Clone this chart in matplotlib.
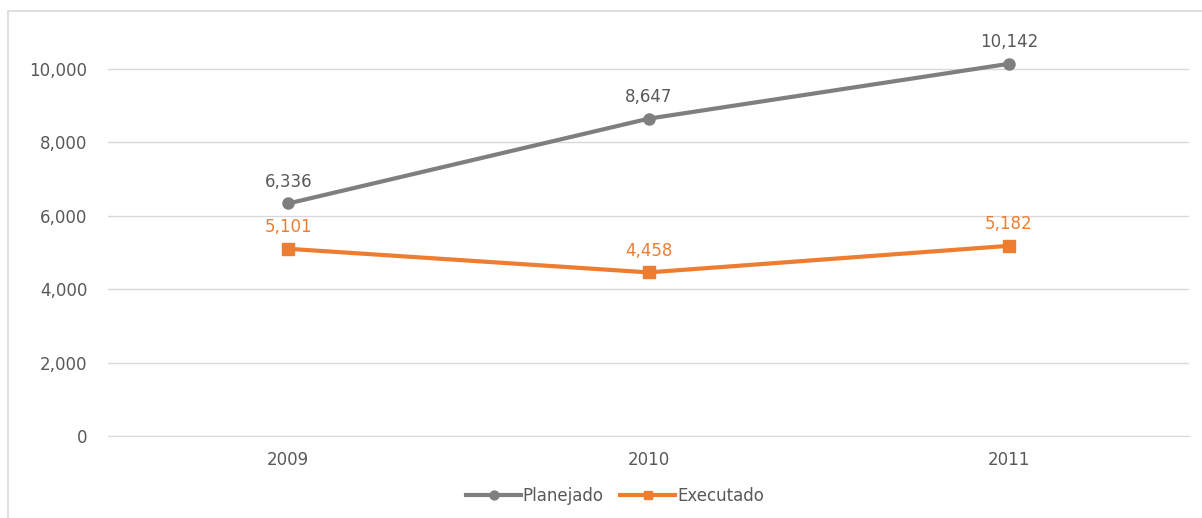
import matplotlib
matplotlib.use("Agg")
import matplotlib.pyplot as plt
from matplotlib.patches import Rectangle
from matplotlib.ticker import FuncFormatter

plt.rcParams["font.family"] = ["DejaVu Sans"]

years = ["2009", "2010", "2011"]
planejado = [6336, 8647, 10142]
executado = [5101, 4458, 5182]

gray = "#7f7f7f"
orange = "#ed7d31"
text_color = "#595959"

fig = plt.figure(figsize=(12.02, 5.18), dpi=100)
ax = fig.add_axes([0.0899, 0.1583, 0.8993, 0.7793])

# chart frame
fig.patches.append(Rectangle((8 / 1202, -0.05), 1.1, 1 - 11 / 518 + 0.05,
                             transform=fig.transFigure, fill=False,
                             edgecolor="#d9d9d9", linewidth=1.2))

x = list(range(len(years)))
ax.plot(x, planejado, color=gray, linewidth=3, marker="o", markersize=8,
        label="Planejado")
ax.plot(x, executado, color=orange, linewidth=3, marker="s", markersize=8,
        label="Executado")

for xi, v in zip(x, planejado):
    ax.annotate(f"{v:,}", (xi, v), xytext=(0, 9), textcoords="offset points",
                ha="center", va="bottom", fontsize=12, color=text_color)
for xi, v in zip(x, executado):
    ax.annotate(f"{v:,}", (xi, v), xytext=(0, 9), textcoords="offset points",
                ha="center", va="bottom", fontsize=12, color=orange)

ax.set_xlim(-0.5, 2.5)
ax.set_ylim(0, 11000)
ax.set_yticks(range(0, 10001, 2000))
ax.yaxis.set_major_formatter(FuncFormatter(lambda v, p: f"{int(v):,}"))
ax.set_xticks(x)
ax.set_xticklabels(years)
ax.grid(axis="y", color="#d9d9d9", linewidth=1)
ax.set_axisbelow(True)
for s in ["top", "right", "left"]:
    ax.spines[s].set_visible(False)
ax.spines["bottom"].set_color("#d9d9d9")
ax.tick_params(axis="both", length=0, labelsize=12, labelcolor=text_color)
ax.tick_params(axis="y", pad=15)
ax.tick_params(axis="x", pad=11)

ax.legend(loc="upper center", bbox_to_anchor=(0.469, -0.09), ncol=2,
          frameon=False, fontsize=12, labelcolor=text_color,
          handlelength=3.3, columnspacing=1.0, handletextpad=0.1,
          markerscale=0.8)

fig.savefig("out.png", dpi=100)
